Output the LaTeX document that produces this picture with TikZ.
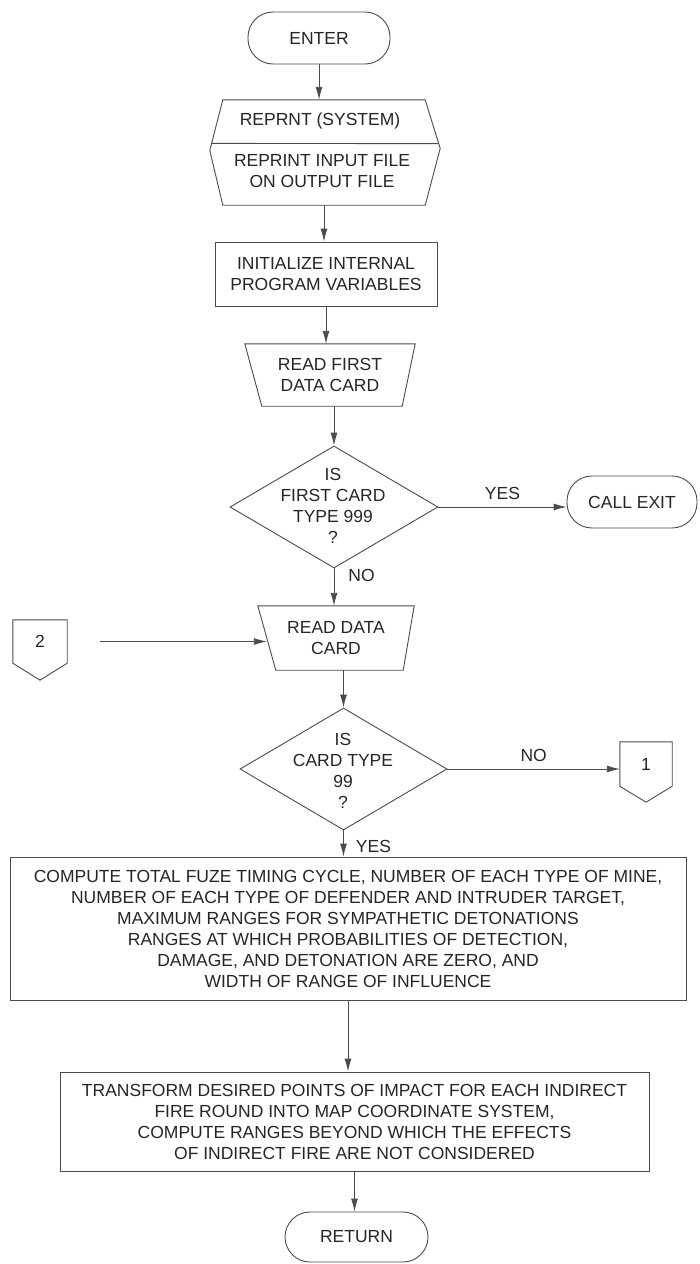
\documentclass[tikz,border=0pt]{standalone}
\usepackage{fontspec}
\setmainfont{Liberation Sans}
\usetikzlibrary{arrows.meta,shapes.geometric,calc}
\begin{document}
\begin{tikzpicture}[x=1pt,y=-1pt,
  every node/.style={font=\fontsize{17.5}{21}\selectfont, text=black!85, align=center, inner sep=0pt},
  ln/.style={draw=black!70, line width=0.9pt},
  term/.style={ln, rectangle, rounded corners=25pt},
  boxed/.style={ln, rectangle},
  dia/.style={ln, diamond, inner sep=0pt},
  arr/.style={draw=black!70, line width=0.9pt, -{Latex[length=13pt,width=7pt]}},
  lbl/.style={text=black!85}]
\fill[white] (0,0) rectangle (699,1264);
\useasboundingbox (0,0) rectangle (699,1264);

% ENTER
\node[term, minimum width=142pt, minimum height=52pt] (enter) at (319,38) {ENTER};

% REPRNT (SYSTEM)
\node[rectangle, minimum width=202pt, minimum height=105pt] (reprnt) at (324,152.5) {};
\coordinate (rpE) at ([xshift=15pt,yshift=4pt]reprnt.east);
\coordinate (rpW) at ([xshift=-13pt,yshift=2pt]reprnt.west);
\draw[ln] (reprnt.north west) -- (reprnt.north east) -- (rpE) -- (reprnt.south east) -- (reprnt.south west) -- (rpW) -- cycle;
\draw[ln] ($(reprnt.north west)!0.86!(rpW)$) -- ($(reprnt.north east)!0.9!(rpE)$);
\node (rpH) at (320,121) {REPRNT (SYSTEM)};
\node (rpB) at (322,171.5) {REPRINT INPUT FILE\\ON OUTPUT FILE};

% INITIALIZE
\node[boxed, minimum width=222pt, minimum height=64pt] (init) at (326,274) {INITIALIZE INTERNAL\\PROGRAM VARIABLES};

% READ FIRST DATA CARD
\node[rectangle, minimum width=170pt, minimum height=62pt] (readfirst) at (330,375) {READ FIRST\\DATA CARD};
\draw[ln] (readfirst.north west) -- (readfirst.north east) -- ([xshift=-13pt]readfirst.south east) -- ([xshift=17pt]readfirst.south west) -- cycle;

% Decision 1
\node[dia, minimum width=208pt, minimum height=122pt] (d1) at (334,507) {};
\node (d1t) at (333,506) {IS\\FIRST CARD\\TYPE 999\\?};

% CALL EXIT
\node[term, minimum width=130pt, minimum height=52pt] (callexit) at (632,502) {CALL EXIT};

% READ DATA CARD
\node[rectangle, minimum width=156pt, minimum height=64pt] (readdata) at (336,638) {READ DATA\\CARD};
\draw[ln] (readdata.north west) -- (readdata.north east) -- ([xshift=-11pt]readdata.south east) -- ([xshift=18pt]readdata.south west) -- cycle;

% Connector 2
\node[rectangle, minimum width=54pt, minimum height=43pt] (conn2) at (40,641.5) {2};
\draw[ln] (conn2.south west) -- (conn2.north west) -- (conn2.north east) -- (conn2.south east) -- ([yshift=-17pt]conn2.south) -- cycle;

% Decision 2
\node[dia, minimum width=207pt, minimum height=122pt] (d2) at (343.5,769) {};
\node (d2t) at (343,771) {IS\\CARD TYPE\\99\\?};

% Connector 1
\node[rectangle, minimum width=52pt, minimum height=44pt] (conn1) at (646,764) {1};
\draw[ln] (conn1.south west) -- (conn1.north west) -- (conn1.north east) -- (conn1.south east) -- ([yshift=-16pt]conn1.south) -- cycle;

% Big compute box
\node[boxed, minimum width=676pt, minimum height=143pt] (box1) at (348,928.5) {COMPUTE TOTAL FUZE TIMING CYCLE, NUMBER OF EACH TYPE OF MINE,\\NUMBER OF EACH TYPE OF DEFENDER AND INTRUDER TARGET,\\MAXIMUM RANGES FOR SYMPATHETIC DETONATIONS\\RANGES AT WHICH PROBABILITIES OF DETECTION,\\DAMAGE, AND DETONATION ARE ZERO, AND\\WIDTH OF RANGE OF INFLUENCE};

% Transform box
\node[boxed, minimum width=589pt, minimum height=99pt] (box2) at (354.5,1121.5) {TRANSFORM DESIRED POINTS OF IMPACT FOR EACH INDIRECT\\FIRE ROUND INTO MAP COORDINATE SYSTEM,\\COMPUTE RANGES BEYOND WHICH THE EFFECTS\\OF INDIRECT FIRE ARE NOT CONSIDERED};

% RETURN
\node[term, minimum width=143pt, minimum height=50pt] (ret) at (356.5,1237) {RETURN};

% Connectors
\draw[arr] (enter.south) -- (enter.south |- reprnt.north);
\draw[arr] (reprnt.south) -- (reprnt.south |- init.north);
\draw[arr] (init.south) -- (init.south |- readfirst.north);
\draw[arr] (d1.north |- readfirst.south) -- (d1.north);
\draw[arr] (d1.east) -- (d1.east -| callexit.west) node[lbl, midway, above=7pt] {YES};
\draw[arr] (d1.south) -- (d1.south |- readdata.north) node[lbl, pos=0.2, right=14pt] {NO};
\draw[arr, shorten <=33pt] (conn2.east) -- ($(conn2.east -| readdata.west)+(9,0)$);
\draw[arr] (d2.north |- readdata.south) -- (d2.north);
\draw[arr] (d2.east) -- (d2.east -| conn1.west) node[lbl, midway, above=7pt] {NO};
\draw[arr] (d2.south) -- (d2.south |- box1.north) node[lbl, pos=0.6, right=12pt] {YES};
\draw[arr] (box1.south) -- (box1.south |- box2.north);
\draw[arr] (box2.south) -- (box2.south |- ret.north);
\end{tikzpicture}
\end{document}
